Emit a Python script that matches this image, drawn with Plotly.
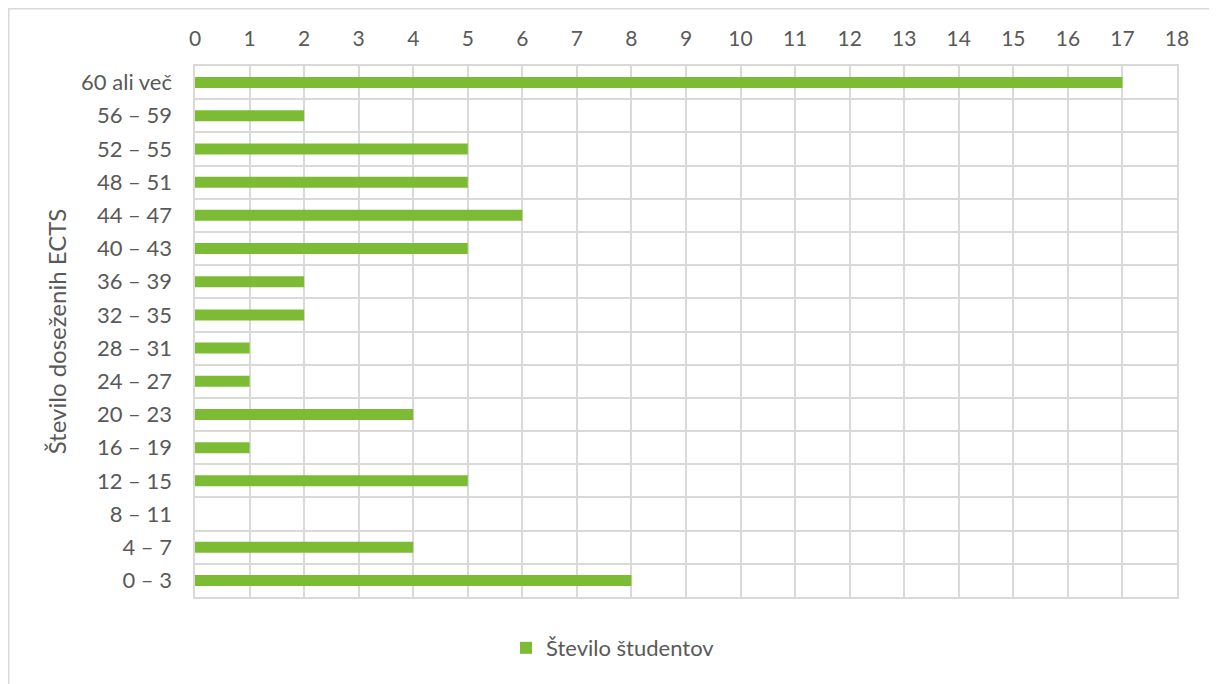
import plotly.graph_objects as go

categories = ["0 – 3", "4 – 7", "8 – 11", "12 – 15", "16 – 19", "20 – 23", "24 – 27",
              "28 – 31", "32 – 35", "36 – 39", "40 – 43", "44 – 47", "48 – 51",
              "52 – 55", "56 – 59", "60 ali več"]
students = [8, 4, 0, 5, 1, 4, 1, 1, 2, 2, 5, 6, 5, 5, 2, 17]
x_ticks = list(range(0, 19))

GREEN = "#7CBB34"
GRID = "#D9D9D9"
TXT = "#595959"
FONT = "Lato"
FS = 21

# page body adds ~8px offset; compensate
OFF = 8
W, H = 1217 - OFF, 684 - OFF
L, T = 195 - OFF, 66 - OFF
R = OFF + W - 1177
B = OFF + H - 597
pw, ph = W - L - R, H - T - B

fig = go.Figure()
fig.add_trace(go.Bar(
    y=categories, x=students, orientation="h",
    marker=dict(color=GREEN, line=dict(width=0)),
    name="Število študentov",
))

fig.update_layout(
    width=W, height=H,
    margin=dict(l=L, r=R, t=T, b=B),
    paper_bgcolor="white", plot_bgcolor="white",
    font=dict(family=FONT, size=FS, color=TXT),
    bargap=0.67,
    showlegend=True,
    legend=dict(orientation="h", x=(613 - 195) / pw, xanchor="center",
                y=(597 - 648) / ph, yanchor="middle",
                font=dict(size=22, color=TXT)),
    xaxis=dict(side="top", range=[0, 18], tickvals=x_ticks, ticktext=[str(v) for v in x_ticks],
               showgrid=True, gridcolor=GRID, gridwidth=1.5, zeroline=False,
               showline=True, linecolor=GRID, linewidth=1.5, mirror=True,
               ticks="outside", ticklen=10, tickcolor="rgba(0,0,0,0)",
               tickfont=dict(size=FS, color=TXT)),
    yaxis=dict(type="category", categoryorder="array", categoryarray=categories,
               tickson="boundaries", showgrid=True, gridcolor=GRID, gridwidth=1.5,
               showline=True, linecolor=GRID, linewidth=1.5, mirror=True,
               ticks="", ticksuffix="\u00a0" * 3,
               tickfont=dict(size=22, color=TXT),
               title=dict(text="Število doseženih ECTS", font=dict(size=24, color=TXT), standoff=8)),
)

# outer chart frame (partly visible)
xl = -L / pw
yt = (ph + T) / ph
fig.add_shape(type="line", xref="paper", yref="paper", x0=xl, x1=1.2, y0=yt, y1=yt,
              line=dict(color=GRID, width=3))
fig.add_shape(type="line", xref="paper", yref="paper", x0=xl, x1=xl, y0=yt, y1=-0.3,
              line=dict(color=GRID, width=3))

fig.write_html("out.html")
